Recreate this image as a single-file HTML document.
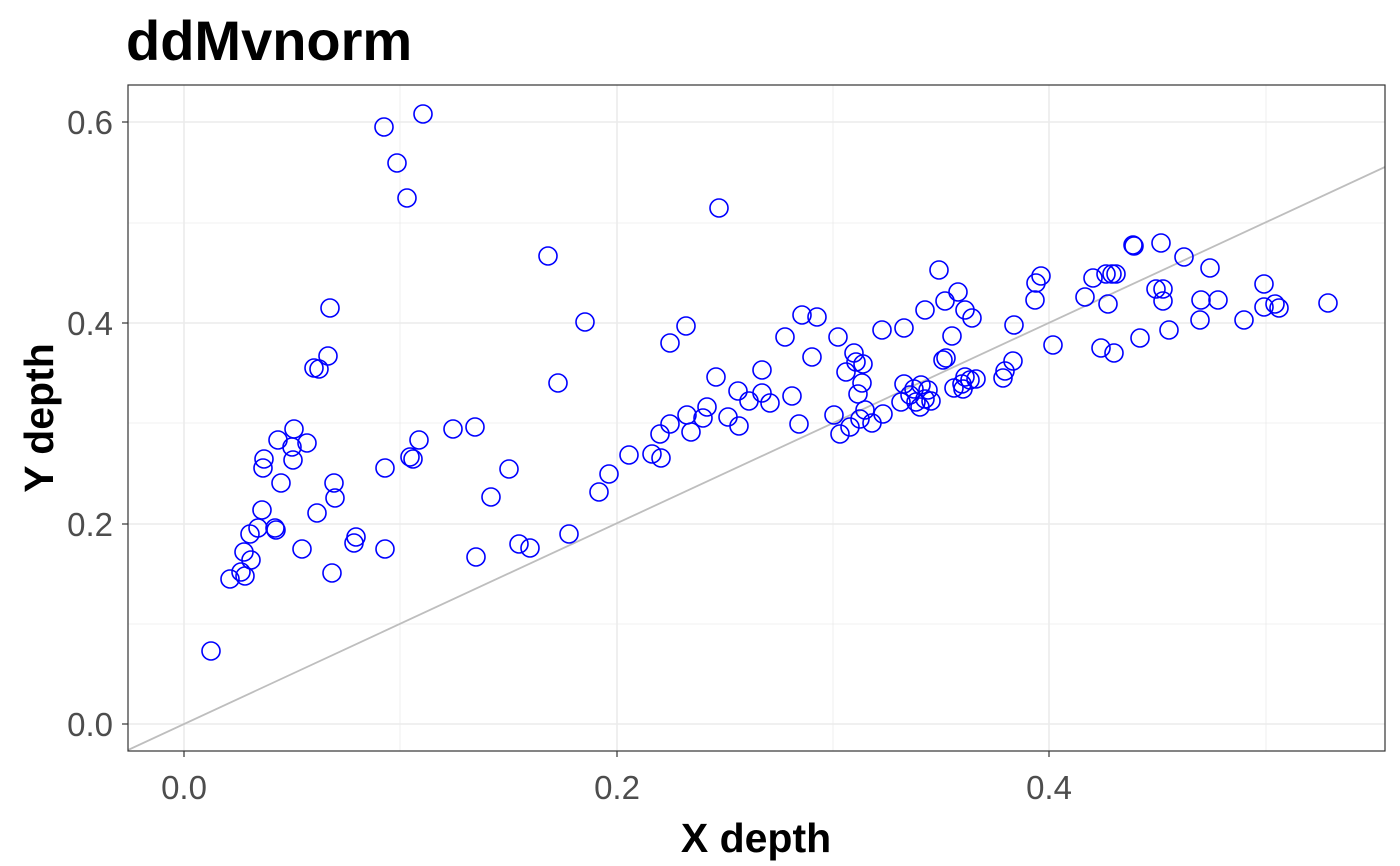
<!DOCTYPE html>
<html><head><meta charset="utf-8"><style>
html,body{margin:0;padding:0;background:#fff;}
svg{display:block;font-family:"Liberation Sans",sans-serif;}
</style></head><body>
<svg width="1400" height="866" viewBox="0 0 1400 866">
<rect width="1400" height="866" fill="#fff"/>
<defs><clipPath id="c"><rect x="128" y="85" width="1257" height="666"/></clipPath></defs>
<g stroke="#ebebeb" stroke-width="0.8">
<line x1="400" y1="85" x2="400" y2="751"/><line x1="833" y1="85" x2="833" y2="751"/><line x1="1266" y1="85" x2="1266" y2="751"/>
<line x1="128" y1="624" x2="1385" y2="624"/><line x1="128" y1="423" x2="1385" y2="423"/><line x1="128" y1="223" x2="1385" y2="223"/>
</g>
<g stroke="#ebebeb" stroke-width="1.6">
<line x1="184" y1="85" x2="184" y2="751"/><line x1="617" y1="85" x2="617" y2="751"/><line x1="1049" y1="85" x2="1049" y2="751"/>
<line x1="128" y1="724" x2="1385" y2="724"/><line x1="128" y1="524" x2="1385" y2="524"/><line x1="128" y1="323" x2="1385" y2="323"/><line x1="128" y1="122" x2="1385" y2="122"/>
</g>
<line x1="128" y1="750" x2="1385" y2="167" stroke="#bebebe" stroke-width="1.8" clip-path="url(#c)"/>
<g fill="none" stroke="#0000ff" stroke-width="1.6" id="pts"></g>
<rect x="128" y="85" width="1257" height="666" fill="none" stroke="#333" stroke-width="1.2"/>
<g stroke="#333" stroke-width="1.2">
<line x1="184" y1="751" x2="184" y2="757"/><line x1="617" y1="751" x2="617" y2="757"/><line x1="1049" y1="751" x2="1049" y2="757"/>
<line x1="122" y1="724" x2="128" y2="724"/><line x1="122" y1="524" x2="128" y2="524"/><line x1="122" y1="323" x2="128" y2="323"/><line x1="122" y1="122" x2="128" y2="122"/>
</g>
<g fill="#4d4d4d" font-size="33">
<text x="184" y="799" text-anchor="middle">0.0</text><text x="617" y="799" text-anchor="middle">0.2</text><text x="1049" y="799" text-anchor="middle">0.4</text>
<text x="113" y="736" text-anchor="end">0.0</text><text x="113" y="536" text-anchor="end">0.2</text><text x="113" y="335" text-anchor="end">0.4</text><text x="113" y="134" text-anchor="end">0.6</text>
</g>
<text x="756" y="852" text-anchor="middle" font-size="41" font-weight="bold">X depth</text>
<text transform="translate(53,418) rotate(-90)" text-anchor="middle" font-size="41" font-weight="bold">Y depth</text>
<text x="126" y="60" font-size="56" font-weight="bold">ddMvnorm</text>
</svg>
<script>
var p=[[211,651],[230,579],[241,572],[245,576],[244,552],[251,560],[250,534],[258,528],[262,510],[263,468],[264,459],[275,528],[276,530],[278,440],[281,483],[292,447],[293,460],[294,429],[307,443],[302,549],[317,513],[314,368],[319,369],[330,308],[328,356],[334,483],[335,498],[332,573],[354,543],[356,537],[384,127],[397,163],[407,198],[423,114],[385,468],[385,549],[410,457],[413,459],[419,440],[453,429],[475,427],[476,557],[491,497],[509,469],[519,544],[530,548],[548,256],[558,383],[569,534],[585,322],[599,492],[609,474],[629,455],[652,454],[661,458],[660,434],[670,343],[670,424],[686,326],[687,415],[691,432],[703,418],[707,407],[716,377],[719,208],[728,417],[738,391],[739,426],[749,401],[762,370],[762,393],[770,403],[785,337],[792,396],[799,424],[802,315],[812,357],[817,317],[834,415],[838,337],[840,434],[846,372],[850,427],[854,353],[856,362],[858,394],[863,364],[862,383],[865,410],[860,419],[872,423],[882,330],[883,414],[904,328],[904,384],[901,402],[910,395],[914,389],[916,402],[920,407],[921,385],[925,399],[928,390],[931,401],[925,310],[939,270],[943,360],[946,358],[945,301],[952,336],[954,388],[958,292],[962,384],[963,389],[965,310],[965,377],[970,380],[972,318],[976,379],[1003,378],[1005,371],[1013,361],[1014,325],[1035,300],[1036,283],[1041,276],[1053,345],[1085,297],[1093,278],[1106,274],[1108,304],[1112,274],[1116,274],[1101,348],[1114,353],[1133,245],[1134,246],[1140,338],[1156,289],[1161,243],[1163,289],[1163,301],[1169,330],[1184,257],[1200,320],[1201,300],[1210,268],[1218,300],[1244,320],[1264,284],[1264,307],[1275,304],[1279,308],[1328,303]];
var g=document.getElementById('pts'),s='';
p.forEach(function(q){s+='<circle cx="'+q[0]+'" cy="'+q[1]+'" r="9"/>';});
g.innerHTML=s;
</script>
</body></html>
